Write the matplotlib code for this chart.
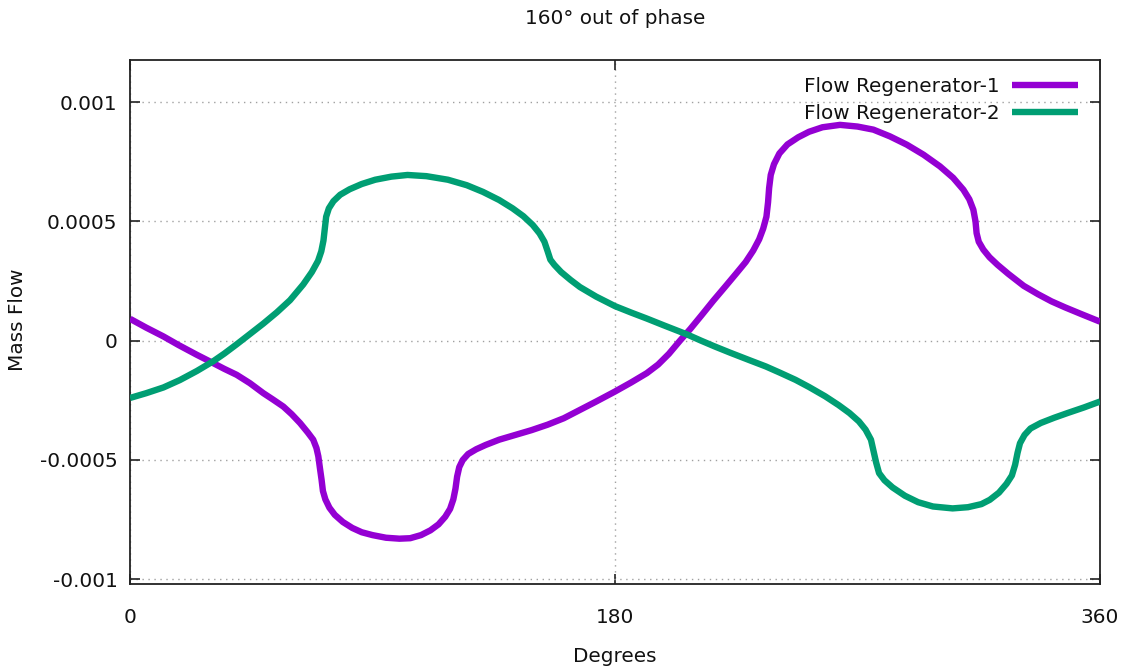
import matplotlib
matplotlib.use("Agg")
import matplotlib.pyplot as plt

# Crank angle (degrees) and mass flow for each regenerator
deg_reg1 = [0, 6, 12.4, 18, 24.8, 30.9, 35, 39.6, 44.5, 49.5, 53, 56.9, 60, 63.1, 66,
            68, 69.2, 69.9, 70.5, 71.1, 71.6, 72.5, 74, 76, 79, 82.5, 86, 90, 95,
            100, 104, 108, 111.5, 114.5, 117, 118.8, 120, 120.8, 121.4, 122.2, 123.5,
            125.5, 128.5, 132, 137, 143, 149, 155, 161, 167, 173, 180, 186, 191.8,
            196, 200, 204.1, 208, 212, 216.5, 221, 225, 228.5, 231.3, 233.5, 235,
            236.2, 236.8, 237.2, 237.8, 239, 241, 244, 248, 252, 257, 263.5, 270,
            275.9, 282, 288.3, 294.5, 300.6, 305.5, 309.3, 311.5, 313, 313.8, 314.2,
            315, 316.7, 319, 322, 326, 331.7, 337, 342, 347, 353, 360]
flow_reg1 = [0.000092, 0.000055, 0.000018, -0.000018, -0.000059, -0.000094, -0.000118,
             -0.000143, -0.000178, -0.000220, -0.000246, -0.000276, -0.000308,
             -0.000345, -0.000385, -0.000415, -0.000450, -0.000485, -0.000535,
             -0.000583, -0.000630, -0.000665, -0.000700, -0.000730, -0.000760,
             -0.000785, -0.000803, -0.000815, -0.000826, -0.000830, -0.000828,
             -0.000815, -0.000795, -0.000770, -0.000738, -0.000705, -0.000665,
             -0.000620, -0.000570, -0.000530, -0.000500, -0.000475, -0.000455,
             -0.000437, -0.000415, -0.000395, -0.000375, -0.000352, -0.000325,
             -0.000290, -0.000255, -0.000213, -0.000175, -0.000136, -0.000100,
             -0.000055, 0.0, 0.000050, 0.000105, 0.000168, 0.000228, 0.000282,
             0.000330, 0.000378, 0.000425, 0.000470, 0.000520, 0.000580, 0.000640,
             0.000695, 0.000740, 0.000785, 0.000823, 0.000853, 0.000876, 0.000895,
             0.000905, 0.000898, 0.000885, 0.000857, 0.000822, 0.000780, 0.000731,
             0.000683, 0.000633, 0.000593, 0.000549, 0.000500, 0.000451, 0.000415,
             0.000382, 0.000350, 0.000318, 0.000280, 0.000230, 0.000195, 0.000165,
             0.000140, 0.000112, 0.000080]

deg_reg2 = [0, 6, 12.4, 18.5, 24.8, 30.9, 35, 39.6, 44.5, 49.5, 54.5, 59.4, 64.3, 67.5,
            69.8, 71, 71.8, 72.3, 72.8, 73.8, 75.5, 78, 81.5, 86, 91, 97, 103, 110,
            118, 125, 131, 137, 142, 146, 149.5, 152, 153.8, 155, 156, 157.5, 160,
            163.5, 167, 173, 180, 186, 191.8, 198, 206.6, 212, 217, 222.7, 230, 236,
            241.2, 247, 252, 258, 263, 267, 270.5, 273, 275, 276.1, 276.9, 278, 280,
            283, 287.6, 292.5, 298, 305.3, 311, 316, 319.1, 322.5, 325.3, 327.3,
            328.5, 329.4, 330.3, 332, 334.2, 338, 343, 348, 354, 360]
flow_reg2 = [-0.000240, -0.000220, -0.000196, -0.000165, -0.000127, -0.000086,
             -0.000054, -0.000015, 0.000028, 0.000072, 0.000119, 0.000170, 0.000236,
             0.000288, 0.000335, 0.000375, 0.000420, 0.000470, 0.000520, 0.000555,
             0.000585, 0.000612, 0.000635, 0.000657, 0.000675, 0.000688, 0.000695,
             0.000690, 0.000675, 0.000652, 0.000624, 0.000590, 0.000555, 0.000522,
             0.000485, 0.000450, 0.000415, 0.000375, 0.000340, 0.000318, 0.000288,
             0.000255, 0.000225, 0.000185, 0.000145, 0.000118, 0.000093, 0.000065,
             0.000027, 0.0, -0.000024, -0.000050, -0.000082, -0.000108, -0.000134,
             -0.000164, -0.000194, -0.000233, -0.000270, -0.000303, -0.000338,
             -0.000373, -0.000415, -0.000470, -0.000510, -0.000555, -0.000585,
             -0.000615, -0.000650, -0.000677, -0.000695, -0.000703, -0.000698,
             -0.000685, -0.000667, -0.000637, -0.000600, -0.000565, -0.000520,
             -0.000470, -0.000430, -0.000395, -0.000368, -0.000345, -0.000323,
             -0.000303, -0.000280, -0.000255]

series_labels = ["Flow Regenerator-1", "Flow Regenerator-2"]
x_ticks = [0, 180, 360]
y_ticks = [-0.001, -0.0005, 0, 0.0005, 0.001]
y_tick_labels = ["-0.001", "-0.0005", "0", "0.0005", "0.001"]

plt.rcParams["font.family"] = ["DejaVu Sans"]
plt.rcParams["font.size"] = 14.4

W, H = 1131, 671
fig = plt.figure(figsize=(W / 100, H / 100), dpi=100)
left, right, top, bottom = 130, 1100, 60, 584
ax = fig.add_axes([left / W, 1 - bottom / H, (right - left) / W, (bottom - top) / H])

purple = "#9400d3"
green = "#009e73"
ax.plot(deg_reg1, flow_reg1, color=purple, lw=4.6, solid_joinstyle="round",
        solid_capstyle="butt", label=series_labels[0], zorder=3)
ax.plot(deg_reg2, flow_reg2, color=green, lw=4.6, solid_joinstyle="round",
        solid_capstyle="butt", label=series_labels[1], zorder=3)

ax.set_xlim(0, 360)
ax.set_ylim(-0.00102, 0.001177)
ax.set_xticks(x_ticks)
ax.set_xticklabels([str(t) for t in x_ticks])
ax.set_yticks(y_ticks)
ax.set_yticklabels(y_tick_labels)

ax.tick_params(direction="in", length=7, width=1.2, top=True, right=True,
               color="#222222", labelcolor="#111111")
ax.tick_params(axis="y", pad=9)
ax.tick_params(axis="x", pad=17)
for sp in ax.spines.values():
    sp.set_linewidth(1.3)
    sp.set_color("#222222")

ax.grid(True, color="#a0a0a0", lw=1.0, linestyle=(0, (1, 3.3)))
ax.set_axisbelow(True)

ax.set_xlabel("Degrees", color="#111111")
ax.xaxis.set_label_coords((615 - left) / (right - left), (bottom - 656) / (bottom - top))
ax.xaxis.label.set_va("center")
ax.set_ylabel("Mass Flow", color="#111111")
ax.yaxis.set_label_coords((18 - left) / (right - left), (bottom - 320) / (bottom - top))
ax.yaxis.label.set_va("center")

ax.set_title("160\u00b0 out of phase", y=(bottom - 18) / (bottom - top), pad=0,
             va="center", color="#111111", fontsize=14.4)

leg = ax.legend(loc="upper right", frameon=False, markerfirst=False,
                bbox_to_anchor=((1078 - left) / (right - left), (bottom - 77) / (bottom - top)),
                borderaxespad=0, borderpad=0, handlelength=3.3, handletextpad=0.6,
                labelspacing=0.4)
for t in leg.get_texts():
    t.set_color("#111111")

fig.savefig("out.png", dpi=100)
